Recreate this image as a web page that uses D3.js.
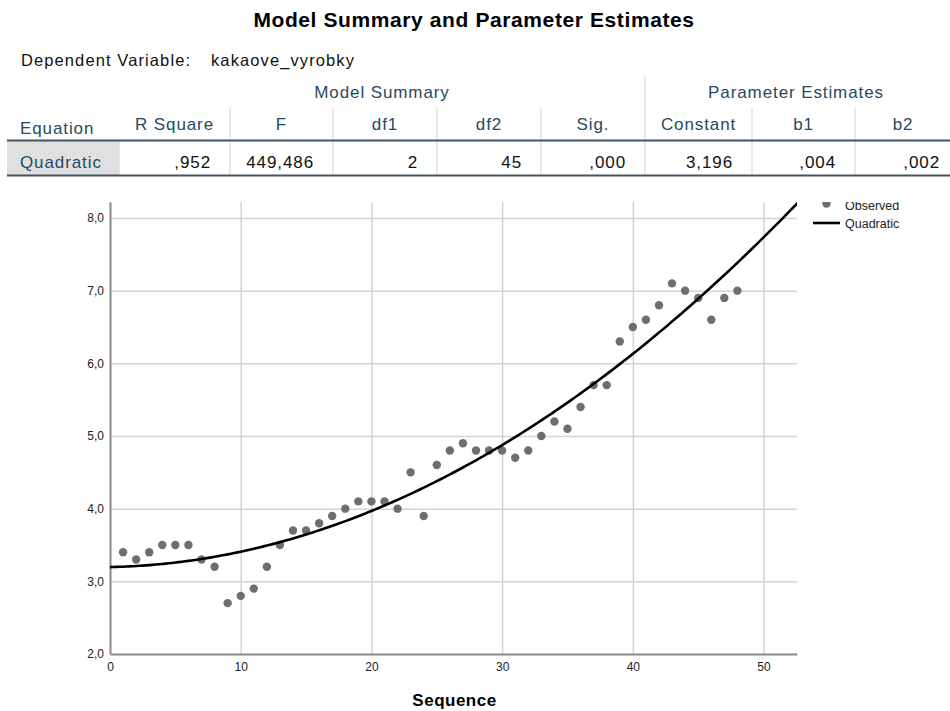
<!DOCTYPE html>
<html>
<head>
<meta charset="utf-8">
<script src="https://cdn.jsdelivr.net/npm/d3@7/dist/d3.min.js"></script>
<style>
  body { margin: 0; background: #fff; }
  svg { font-family: "Liberation Sans", Arial, sans-serif; }
</style>
</head>
<body>
<script>
// table content
var groupHeaders = ["Model Summary", "Parameter Estimates"];
var columnHeaders = ["Equation", "R Square", "F", "df1", "df2", "Sig.", "Constant", "b1", "b2"];
var rowValues = ["Quadratic", ",952", "449,486", "2", "45", ",000", "3,196", ",004", ",002"];

// observed series (Sequence 1..48)
var sequence = d3.range(1, 49);
var observed = [3.4, 3.3, 3.4, 3.5, 3.5, 3.5, 3.3, 3.2, 2.7, 2.8,
                2.9, 3.2, 3.5, 3.7, 3.7, 3.8, 3.9, 4.0, 4.1, 4.1,
                4.1, 4.0, 4.5, 3.9, 4.6, 4.8, 4.9, 4.8, 4.8, 4.8,
                4.7, 4.8, 5.0, 5.2, 5.1, 5.4, 5.7, 5.7, 6.3, 6.5,
                6.6, 6.8, 7.1, 7.0, 6.9, 6.6, 6.9, 7.0];
var xTicks = [0, 10, 20, 30, 40, 50];
var yTicks = [2, 3, 4, 5, 6, 7, 8];

var width = 950, height = 711;
var svg = d3.select("body").append("svg")
    .attr("width", width)
    .attr("height", height);

/* title and caption */
svg.append("text")
    .attr("x", 474).attr("y", 27)
    .attr("text-anchor", "middle")
    .attr("font-size", 21).attr("font-weight", "bold")
    .attr("letter-spacing", 0.6)
    .attr("fill", "#000")
    .text("Model Summary and Parameter Estimates");

var caption = svg.append("g").attr("font-size", 16.5).attr("letter-spacing", 1.1).attr("fill", "#111");
caption.append("text").attr("x", 21).attr("y", 66).text("Dependent Variable:");
caption.append("text").attr("x", 211).attr("y", 66).text("kakaove_vyrobky");

/* table */
var colEdges = [7, 119, 230, 333, 437, 541, 645, 752, 855, 959];
var headBlue = "#264a60";
var table = svg.append("g").attr("font-size", 17).attr("letter-spacing", 0.9);

// light separators
var sepColor = "#e2e2e2";
table.append("line").attr("x1", 645).attr("x2", 645).attr("y1", 76).attr("y2", 140)
    .attr("stroke", sepColor).attr("stroke-width", 1.5);
colEdges.slice(2, 9).forEach(function (x) {
  if (x === 645) return;
  table.append("line").attr("x1", x).attr("x2", x).attr("y1", 108).attr("y2", 140)
      .attr("stroke", sepColor).attr("stroke-width", 1.5);
});
colEdges.slice(1, 9).forEach(function (x) {
  table.append("line").attr("x1", x).attr("x2", x).attr("y1", 141).attr("y2", 175)
      .attr("stroke", sepColor).attr("stroke-width", 1.5);
});

// equation cell background
table.append("rect").attr("x", 7).attr("y", 141).attr("width", 112).attr("height", 34)
    .attr("fill", "#e0e0e0");

// group headers
table.append("text").attr("x", (119 + 645) / 2).attr("y", 98)
    .attr("text-anchor", "middle").attr("fill", headBlue).text(groupHeaders[0]);
table.append("text").attr("x", (645 + 959) / 2 - 6).attr("y", 98)
    .attr("text-anchor", "middle").attr("fill", headBlue).text(groupHeaders[1]);

// column headers
table.selectAll("text.colhead")
    .data(columnHeaders)
    .enter().append("text")
    .attr("class", "colhead")
    .attr("x", function (d, i) { return i === 0 ? 20 : (colEdges[i] + colEdges[i + 1]) / 2 - (i === 8 ? 4 : 0); })
    .attr("y", function (d, i) { return i === 0 ? 134 : 130; })
    .attr("text-anchor", function (d, i) { return i === 0 ? "start" : "middle"; })
    .attr("fill", headBlue)
    .text(function (d) { return d; });

// values row
table.selectAll("text.val")
    .data(rowValues)
    .enter().append("text")
    .attr("class", "val")
    .attr("x", function (d, i) { return i === 0 ? 20 : colEdges[i + 1] - 19; })
    .attr("y", 168)
    .attr("text-anchor", function (d, i) { return i === 0 ? "start" : "end"; })
    .attr("fill", function (d, i) { return i === 0 ? headBlue : "#111"; })
    .text(function (d) { return d; });

// rule lines
table.append("line").attr("x1", 7).attr("x2", 950).attr("y1", 140.5).attr("y2", 140.5)
    .attr("stroke", "#3f5566").attr("stroke-width", 2);
table.append("line").attr("x1", 7).attr("x2", 950).attr("y1", 175.5).attr("y2", 175.5)
    .attr("stroke", "#3f5566").attr("stroke-width", 2);

/* chart */
var plot = { left: 110, right: 797, top: 202, bottom: 654 };
var x = d3.scaleLinear().domain([0, 52.56]).range([plot.left, plot.right]);
var y = d3.scaleLinear().domain([2, 8.22]).range([plot.bottom, plot.top]);
var fmt = d3.formatLocale({ decimal: ",", thousands: ".", grouping: [3], currency: ["", ""] }).format(".1f");

var defs = svg.append("defs");
defs.append("clipPath").attr("id", "plotclip").append("rect")
    .attr("x", plot.left).attr("y", plot.top)
    .attr("width", plot.right - plot.left).attr("height", plot.bottom - plot.top);
defs.append("clipPath").attr("id", "legclip").append("rect")
    .attr("x", 800).attr("y", 202).attr("width", 150).attr("height", 60);

// gridlines
svg.append("g")
    .attr("transform", "translate(0," + plot.bottom + ")")
    .call(d3.axisBottom(x).tickValues(xTicks).tickSize(-(plot.bottom - plot.top)).tickFormat(""))
    .call(function (g) {
      g.select(".domain").remove();
      g.selectAll("line").attr("stroke", "#d4d4d4").attr("stroke-width", 1.5);
    });
svg.append("g")
    .attr("transform", "translate(" + plot.left + ",0)")
    .call(d3.axisLeft(y).tickValues(yTicks).tickSize(-(plot.right - plot.left)).tickFormat(""))
    .call(function (g) {
      g.select(".domain").remove();
      g.selectAll("line").attr("stroke", "#d4d4d4").attr("stroke-width", 1.5);
    });

// axes
svg.append("g")
    .attr("transform", "translate(0," + plot.bottom + ")")
    .call(d3.axisBottom(x).tickValues(xTicks).tickSize(0).tickPadding(8).tickFormat(d3.format("d")))
    .call(function (g) {
      g.select(".domain").attr("stroke", "#8c8c8c").attr("stroke-width", 2);
      g.selectAll("text").attr("font-size", 12).attr("fill", "#222")
          .attr("font-family", "'Liberation Sans', Arial, sans-serif");
    });
svg.append("g")
    .attr("transform", "translate(" + plot.left + ",0)")
    .call(d3.axisLeft(y).tickValues(yTicks).tickSize(0).tickPadding(6).tickFormat(fmt))
    .call(function (g) {
      g.select(".domain").attr("stroke", "#8c8c8c").attr("stroke-width", 2);
      g.selectAll("text").attr("font-size", 12).attr("fill", "#222")
          .attr("font-family", "'Liberation Sans', Arial, sans-serif");
    });

// quadratic least squares fit of the observed values
function quadFit(xs, ys) {
  var s = [0, 0, 0, 0, 0], t = [0, 0, 0];
  xs.forEach(function (xi, i) {
    for (var k = 0; k < 5; k++) s[k] += Math.pow(xi, k);
    for (var k2 = 0; k2 < 3; k2++) t[k2] += ys[i] * Math.pow(xi, k2);
  });
  var A = [[s[0], s[1], s[2], t[0]], [s[1], s[2], s[3], t[1]], [s[2], s[3], s[4], t[2]]];
  for (var c = 0; c < 3; c++) {
    for (var r = c + 1; r < 3; r++) {
      var f = A[r][c] / A[c][c];
      for (var j = c; j < 4; j++) A[r][j] -= f * A[c][j];
    }
  }
  var b = [0, 0, 0];
  for (var r2 = 2; r2 >= 0; r2--) {
    var v = A[r2][3];
    for (var j2 = r2 + 1; j2 < 3; j2++) v -= A[r2][j2] * b[j2];
    b[r2] = v / A[r2][r2];
  }
  return b;
}
var coef = quadFit(sequence, observed);
var curveX = d3.range(0, 53.01, 0.25);
var line = d3.line()
    .x(function (d) { return x(d); })
    .y(function (d) { return y(coef[0] + coef[1] * d + coef[2] * d * d); });

svg.append("g").attr("clip-path", "url(#plotclip)")
    .selectAll("circle")
    .data(observed)
    .enter().append("circle")
    .attr("cx", function (d, i) { return x(sequence[i]); })
    .attr("cy", function (d) { return y(d); })
    .attr("r", 4.2)
    .attr("fill", "#6e6e6e");

svg.append("path")
    .datum(curveX)
    .attr("clip-path", "url(#plotclip)")
    .attr("fill", "none")
    .attr("stroke", "#000")
    .attr("stroke-width", 2.6)
    .attr("d", line);

// legend
var leg = svg.append("g").attr("clip-path", "url(#legclip)").attr("font-size", 12.5).attr("fill", "#222");
leg.append("circle").attr("cx", 826.5).attr("cy", 203.5).attr("r", 4.2).attr("fill", "#6e6e6e");
leg.append("text").attr("x", 845).attr("y", 209.5).text("Observed");
leg.append("line").attr("x1", 813).attr("x2", 840).attr("y1", 223).attr("y2", 223)
    .attr("stroke", "#000").attr("stroke-width", 2.6);
leg.append("text").attr("x", 845).attr("y", 227.5).text("Quadratic");

// x axis title
svg.append("text")
    .attr("x", (plot.left + plot.right) / 2 + 1).attr("y", 706)
    .attr("text-anchor", "middle")
    .attr("font-size", 17).attr("font-weight", "bold")
    .attr("letter-spacing", 0.5)
    .text("Sequence");
</script>
</body>
</html>
